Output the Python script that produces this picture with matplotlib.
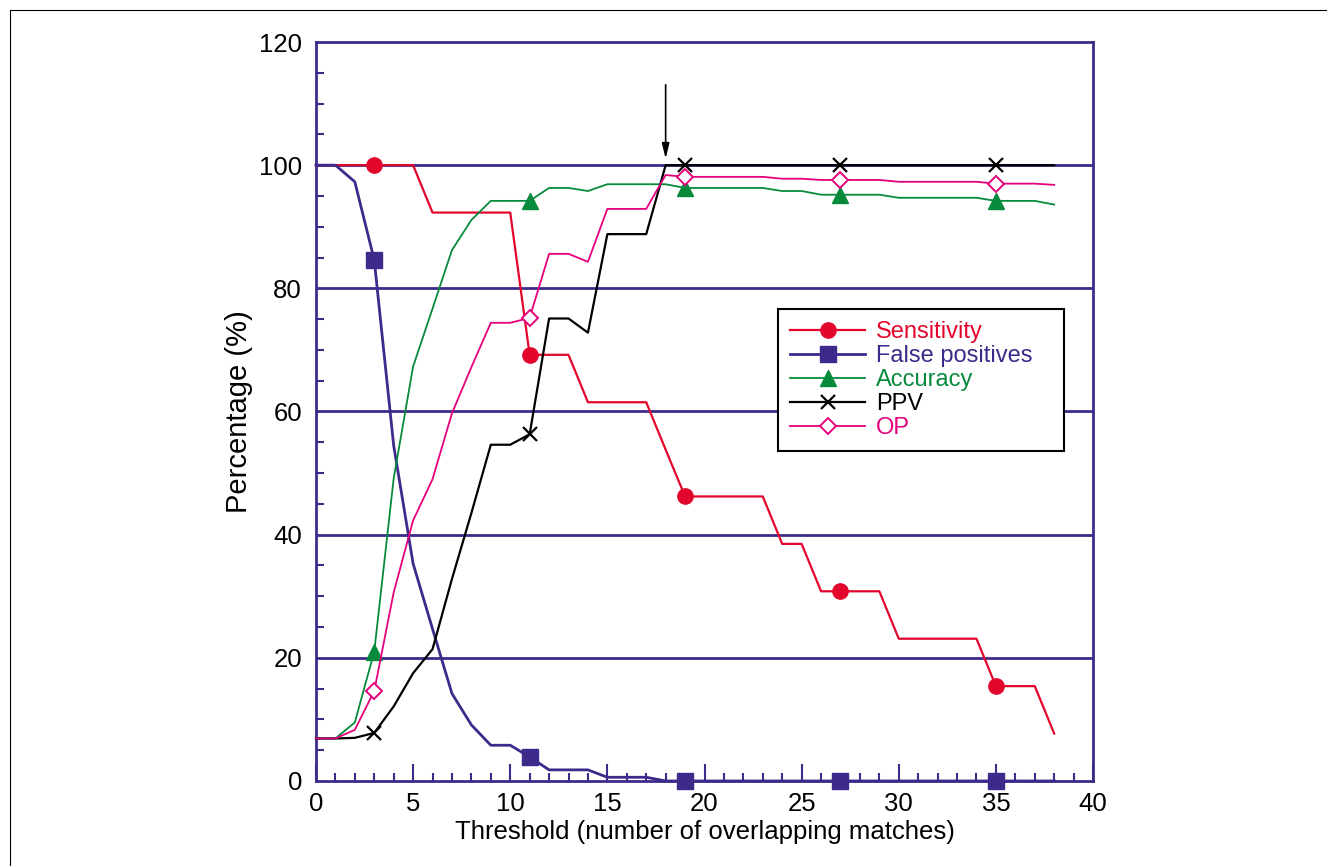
"""
Threshold sweep: sensitivity, false positives, accuracy, PPV and OP.
"""
import matplotlib
matplotlib.use("Agg")
import matplotlib.pyplot as plt
from matplotlib.patches import Rectangle
from matplotlib.ticker import MultipleLocator

threshold = list(range(0, 39))

sensitivity = [100, 100, 100, 100, 100, 100, 92.3, 92.3, 92.3, 92.3, 92.3,
               69.2, 69.2, 69.2, 61.5, 61.5, 61.5, 61.5, 53.8, 46.2, 46.2,
               46.2, 46.2, 46.2, 38.5, 38.5, 30.8, 30.8, 30.8, 30.8, 23.1,
               23.1, 23.1, 23.1, 23.1, 15.4, 15.4, 15.4, 7.7]
false_positives = [100, 100, 97.3, 84.6, 54.5, 35.3, 24.7, 14.2, 9.1, 5.8, 5.8,
                   3.9, 1.8, 1.8, 1.8, 0.6, 0.6, 0.6, 0, 0, 0,
                   0, 0, 0, 0, 0, 0, 0, 0, 0, 0,
                   0, 0, 0, 0, 0, 0, 0, 0]
accuracy = [6.9, 6.9, 9.5, 21.0, 49.1, 67.3, 76.7, 86.2, 91.1, 94.2, 94.2,
            94.2, 96.3, 96.3, 95.8, 96.9, 96.9, 96.9, 96.9, 96.3, 96.3,
            96.3, 96.3, 96.3, 95.8, 95.8, 95.2, 95.2, 95.2, 95.2, 94.7,
            94.7, 94.7, 94.7, 94.7, 94.2, 94.2, 94.2, 93.6]
ppv = [6.9, 6.9, 7.0, 7.8, 12.1, 17.5, 21.4, 32.8, 43.5, 54.6, 54.6,
       56.3, 75.1, 75.1, 72.8, 88.8, 88.8, 88.8, 100, 100, 100,
       100, 100, 100, 100, 100, 100, 100, 100, 100, 100,
       100, 100, 100, 100, 100, 100, 100, 100]
op = [6.9, 6.9, 8.3, 14.6, 30.6, 42.3, 49.0, 59.7, 67.2, 74.4, 74.4,
      75.2, 85.6, 85.6, 84.3, 92.9, 92.9, 92.9, 98.4, 98.1, 98.1,
      98.1, 98.1, 98.1, 97.8, 97.8, 97.6, 97.6, 97.6, 97.6, 97.3,
      97.3, 97.3, 97.3, 97.3, 97.0, 97.0, 97.0, 96.8]

marked = [3, 11, 19, 27, 35]

RED = "#e2062c"
PURPLE = "#3d2a8a"
GREEN = "#078a3c"
BLACK = "#000000"
MAGENTA = "#e5007d"

plt.rcParams["font.family"] = ["Liberation Sans", "DejaVu Sans"]

fig = plt.figure(figsize=(13.27, 8.66), dpi=100)
ax = fig.add_axes([0.2381, 0.0982, 0.5856, 0.8533])

# horizontal reference lines
for yv in [20, 40, 60, 80, 100]:
    ax.axhline(yv, color=PURPLE, lw=2, zorder=1)

ax.plot(threshold, sensitivity, color=RED, lw=1.6, marker="o", ms=11,
        markevery=marked, label="Sensitivity", zorder=3, clip_on=False)
ax.plot(threshold, false_positives, color=PURPLE, lw=2.0, marker="s", ms=11,
        markevery=marked, label="False positives   ", zorder=3, clip_on=False)
ax.plot(threshold, accuracy, color=GREEN, lw=1.3, marker="^", ms=11,
        markevery=marked, label="Accuracy", zorder=3, clip_on=False)
ax.plot(threshold, ppv, color=BLACK, lw=1.6, marker="x", ms=10, mew=1.6,
        markevery=marked, label="PPV", zorder=3, clip_on=False)
ax.plot(threshold, op, color=MAGENTA, lw=1.3, marker="D", ms=8, mew=1.4,
        mfc="white", markevery=marked, label="OP", zorder=3, clip_on=False)

# arrow marking the chosen threshold
ax.annotate("", xy=(18, 100.6), xytext=(18, 113.5),
            arrowprops=dict(arrowstyle="-|>,head_length=0.9,head_width=0.22",
                            color="black", lw=1.2))

ax.set_xlim(0, 40)
ax.set_ylim(0, 120)
ax.xaxis.set_major_locator(MultipleLocator(5))
ax.xaxis.set_minor_locator(MultipleLocator(1))
ax.yaxis.set_major_locator(MultipleLocator(20))
ax.yaxis.set_minor_locator(MultipleLocator(5))
ax.tick_params(axis="both", which="major", direction="in", color=PURPLE,
               width=1.5, labelsize=18.5)
ax.tick_params(axis="x", which="major", length=12, pad=8)
ax.tick_params(axis="y", which="major", length=0, pad=10)
ax.tick_params(axis="both", which="minor", direction="in", color=PURPLE,
               width=1.5, length=6)
for sp in ax.spines.values():
    sp.set_color(PURPLE)
    sp.set_linewidth(2)

ax.set_xlabel("Threshold (number of overlapping matches)", fontsize=18.5, labelpad=3)
ax.set_ylabel("Percentage (%)", fontsize=21, labelpad=4)

leg = ax.legend(loc="upper left", bbox_to_anchor=(0.5946, 0.6387),
                borderaxespad=0, fancybox=False, edgecolor="black",
                framealpha=1, fontsize=17, handlelength=3.2,
                labelspacing=0.09, borderpad=0.5, handletextpad=0.45)
leg.set_zorder(10)
leg.get_frame().set_linewidth(1.5)
for txt, col in zip(leg.get_texts(), [RED, PURPLE, GREEN, BLACK, MAGENTA]):
    txt.set_color(col)

# thin frame round the whole figure
fig.patches.append(Rectangle((10 / 1327, -0.05), 1.1, 1 - 10 / 866 + 0.05,
                             transform=fig.transFigure, fill=False,
                             edgecolor="black", lw=0.8))

fig.savefig("out.png", dpi=100)
